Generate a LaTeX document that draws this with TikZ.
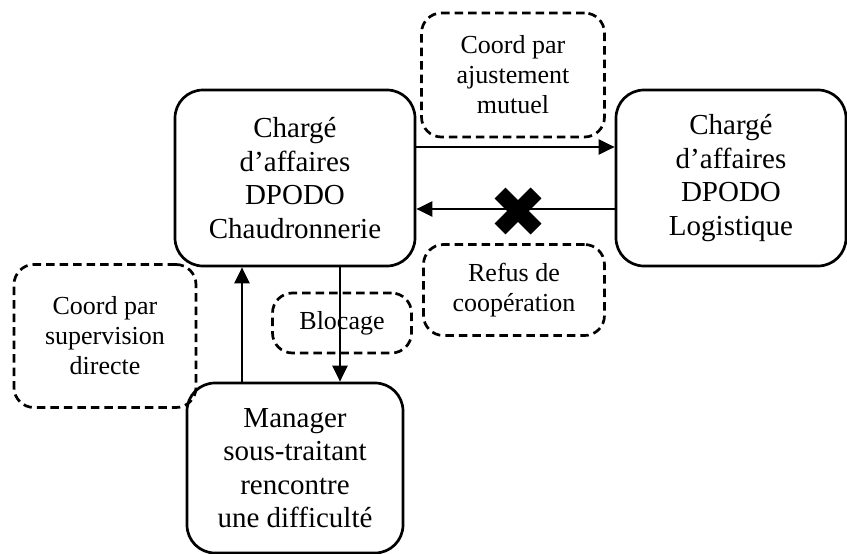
\documentclass[tikz,border=0pt]{standalone}
\usepackage{fontspec}
\setmainfont{Liberation Serif}
\usetikzlibrary{arrows.meta}

\begin{document}
\begin{tikzpicture}[x=1pt,y=-1pt,
    acteur/.style={draw,line width=2.7pt,rounded corners=28pt,align=center,
      inner sep=0pt,font=\fontsize{29}{33.5}\selectfont},
    coord/.style={draw,dash pattern=on 8.5pt off 5pt,line width=2.7pt,
      rounded corners=20pt,align=center,inner sep=0pt,
      font=\fontsize{26}{30}\selectfont},
    fleche/.style={line width=2.4pt,-{Triangle[length=16pt,width=15pt]}}]
  \useasboundingbox (0,0) rectangle (847,554);
  % acteurs
  \node[acteur,minimum width=240pt,minimum height=176pt] (chaud) at (295,178)
    {Chargé\\d’affaires\\DPODO\\Chaudronnerie};
  \node[acteur,minimum width=230pt,minimum height=176pt] (logist) at (731,178)
    {Chargé\\d’affaires\\DPODO\\Logistique};
  \node[acteur,minimum width=216pt,minimum height=170pt] (manager) at (295,468)
    {Manager\\sous-traitant\\rencontre\\une difficulté};
  % modes de coordination
  \node[coord,minimum width=183pt,minimum height=124pt] (ajust) at (513,75)
    {Coord par\\ajustement\\mutuel};
  \node[coord,minimum width=181pt,minimum height=91pt] (refus) at (514,290)
    {Refus de\\coopération};
  \node[coord,minimum width=139pt,minimum height=60pt] (blocage) at (342,323)
    {Blocage};
  \node[coord,minimum width=182pt,minimum height=143pt] (superv) at (105,336)
    {Coord par\\supervision\\directe};
  % fleches
  \draw[fleche] ([yshift=31pt]chaud.east) -- ([yshift=31pt]logist.west);
  \draw[fleche] ([yshift=-31pt]logist.west) -- ([yshift=-31pt]chaud.east);
  \draw[fleche] ([xshift=-53pt]manager.north) -- ([xshift=-53pt]chaud.south);
  \draw[fleche] ([xshift=45pt]chaud.south) -- ([xshift=45pt]manager.north);
  % croix
  \coordinate (croix) at (518,211);
  \draw[line width=15.5pt] ([shift={(-18,-18)}]croix) -- ([shift={(18,18)}]croix);
  \draw[line width=15.5pt] ([shift={(-18,18)}]croix) -- ([shift={(18,-18)}]croix);
\end{tikzpicture}
\end{document}
